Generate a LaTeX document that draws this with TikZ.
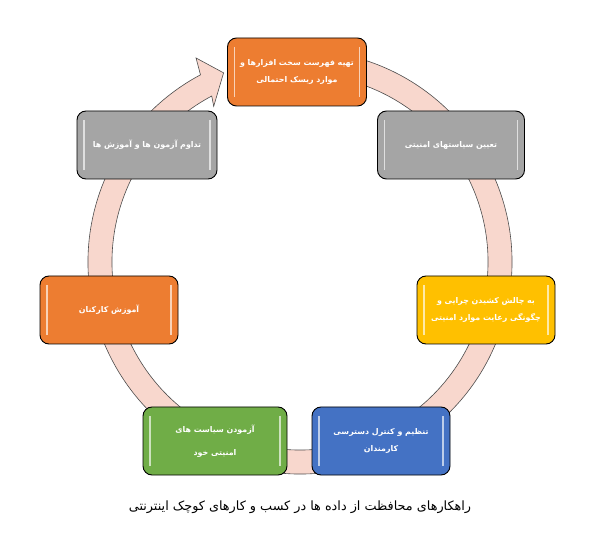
\documentclass[tikz,border=0pt]{standalone}
\usepackage{fontspec}
\usepackage{xcolor}
\usepackage{tikz}
\newfontfamily\farsi[Script=Arabic]{DejaVu Sans}
\TeXXeTstate=1

\definecolor{ringpink}{HTML}{F8D7CD}
\definecolor{boxorange}{HTML}{ED7D31}
\definecolor{boxgray}{HTML}{A5A5A5}
\definecolor{boxyellow}{HTML}{FFC000}
\definecolor{boxblue}{HTML}{4472C4}
\definecolor{boxgreen}{HTML}{70AD47}

\begin{document}
\begin{tikzpicture}[x=1pt, y=1pt, font=\farsi\bfseries\fontsize{7.9}{17}\selectfont,
	stage/.style={draw=black, line width=0.9pt, rounded corners=9pt, fill=#1, text=white,
	    minimum width=139pt, minimum height=68pt, align=center, inner sep=0pt,
	    path picture={
	        \draw[white!65!#1, line width=1.6pt]
	            ([xshift=7pt,yshift=-9pt]path picture bounding box.north west) --
	            ([xshift=7pt,yshift=9pt]path picture bounding box.south west);
	        \draw[white!65!#1, line width=1.6pt]
	            ([xshift=-7pt,yshift=-9pt]path picture bounding box.north east) --
	            ([xshift=-7pt,yshift=9pt]path picture bounding box.south east);}},
	ring/.style={fill=ringpink, draw=black!70, line width=0.6pt}]
	\useasboundingbox (0,0) rectangle (590,558);
	% circular arrow behind the boxes
	\draw[ring, shift={(300,296)}]
	    (75:212) arc[start angle=75, end angle=-242, radius=212]
	    -- (-243:229) -- (-248:204) -- (-241:178) -- (-242:188)
	    arc[start angle=-242, end angle=75, radius=188] -- cycle;
	% stages
	\node[stage=boxorange] (list) at (297,486)
	    {\beginR تهیه فهرست سخت افزارها و\endR\\ \beginR موارد ریسک احتمالی\endR};
	\node[stage=boxgray, minimum width=147pt] (policy) at (451,413)
	    {\beginR تعیین سیاستهای امنیتی\endR};
	\node[stage=boxyellow, minimum width=138pt] (challenge) at (486,248)
	    {\beginR به چالش کشیدن چرایی و\endR\\ \beginR چگونگی رعایت موارد امنیتی\endR};
	\node[stage=boxblue, minimum width=138pt] (access) at (381,117)
	    {\beginR تنظیم و کنترل دسترسی\endR\\ \beginR کارمندان\endR};
	\node[stage=boxgreen, minimum width=144pt] (test) at (215,117)
	    {\beginR آزمودن سیاست های\endR\\[6pt] \beginR امنیتی خود\endR};
	\node[stage=boxorange, minimum width=138pt] (train) at (109,248)
	    {\beginR آموزش کارکنان\endR};
	\node[stage=boxgray, minimum width=140pt] (repeat) at (147,413)
	    {\beginR تداوم آزمون ها و آموزش ها\endR};
	% caption
	\node[font=\farsi\fontsize{12.8}{14}\selectfont] (caption) at (300,51)
	    {\beginR راهکارهای محافظت از داده ها در کسب و کارهای کوچک اینترنتی\endR};
\end{tikzpicture}
\end{document}
